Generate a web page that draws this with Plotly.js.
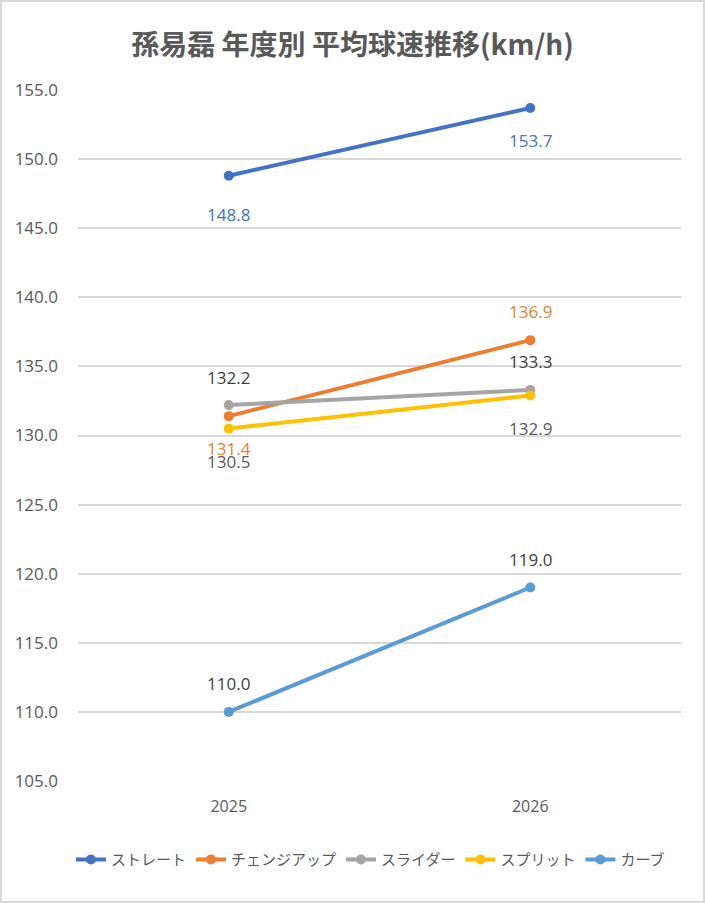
<!DOCTYPE html>
<html>
<head>
<meta charset="utf-8">
<script src="https://cdn.plot.ly/plotly-3.0.1.min.js"></script>
<style>
  html, body { margin: 0; padding: 0; background: #fff; }
  #plot { width: 701px; height: 899px; border: 2px solid #d9d9d9; }
</style>
</head>
<body>
<div id="plot"></div>
<script>
// 年度別 平均球速 (km/h)
var years = ['2025', '2026'];
var pitchNames = ['ストレート', 'チェンジアップ', 'スライダー', 'スプリット', 'カーブ'];
var straight = [148.8, 153.7];
var changeup = [131.4, 136.9];
var slider = [132.2, 133.3];
var splitter = [130.5, 132.9];
var curve = [110.0, 119.0];

var colors = ['#4472C4', '#ED7D31', '#A5A5A5', '#FFC000', '#5B9BD5'];
var labelColors = ['#4472C4', '#ED7D31', '#404040', '#595959', '#404040'];
// label offset (px) from point, negative = below
var labelShift = [
  [-39, -33],
  [-32, 29],
  [28, 28],
  [-33, -33],
  [28, 28]
];

var series = [straight, changeup, slider, splitter, curve];

var data = [];
var annotations = [];
series.forEach(function (vals, i) {
  data.push({
    x: years,
    y: vals,
    name: pitchNames[i],
    type: 'scatter',
    mode: 'lines+markers',
    line: { color: colors[i], width: 4 },
    marker: { color: colors[i], size: 10 },
    hoverinfo: 'skip'
  });
  vals.forEach(function (v, j) {
    annotations.push({
      x: j,
      y: v,
      xref: 'x',
      yref: 'y',
      text: v.toFixed(1),
      showarrow: false,
      yshift: labelShift[i][j],
      font: { family: 'Open Sans', size: 17, color: labelColors[i] }
    });
  });
});

var layout = {
  width: 701,
  height: 899,
  margin: { l: 76, r: 22, t: 88, b: 120 },
  paper_bgcolor: '#fff',
  plot_bgcolor: '#fff',
  title: {
    text: '<b>孫易磊 年度別 平均球速推移(km/h)</b>',
    x: 0.5,
    xanchor: 'center',
    y: 0.952,
    yanchor: 'middle',
    font: { family: 'Noto Sans CJK JP', size: 28, color: '#595959' }
  },
  xaxis: {
    type: 'category',
    range: [-0.5, 1.5],
    showgrid: false,
    showline: false,
    zeroline: false,
    ticks: '',
    ticklabelstandoff: 14,
    tickfont: { family: 'Open Sans', size: 16, color: '#595959' }
  },
  yaxis: {
    range: [105, 155],
    dtick: 5,
    tickformat: '.1f',
    showgrid: true,
    gridcolor: '#d9d9d9',
    gridwidth: 1.5,
    zeroline: false,
    showline: false,
    ticks: '',
    ticklabelstandoff: 19,
    tickfont: { family: 'Open Sans', size: 17, color: '#595959' }
  },
  showlegend: true,
  legend: {
    orientation: 'h',
    x: 0.485,
    xanchor: 'center',
    y: -0.09,
    yanchor: 'top',
    font: { family: 'Noto Sans CJK JP', size: 15, color: '#595959' }
  },
  annotations: annotations
};

Plotly.newPlot('plot', data, layout, { displayModeBar: false });
</script>
</body>
</html>
